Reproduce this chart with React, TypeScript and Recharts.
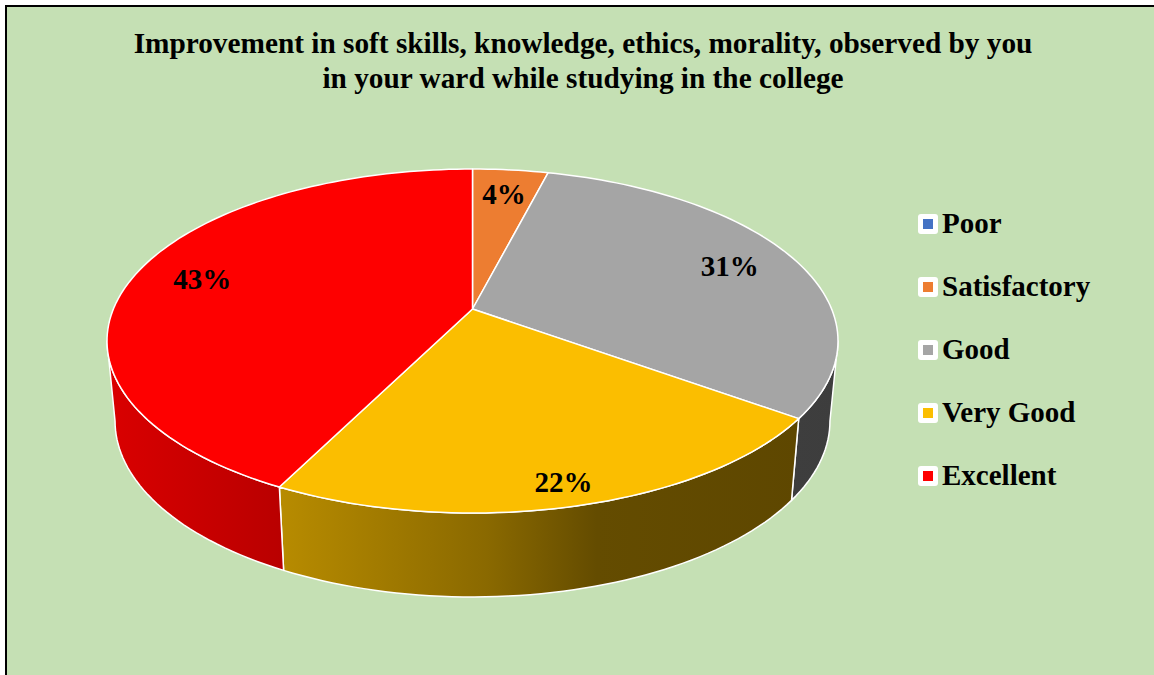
import React from 'react';
import { PieChart, Pie, Cell, Legend } from 'recharts';

const categories = ['Poor', 'Satisfactory', 'Good', 'Very Good', 'Excellent'];
const shares = [0, 4, 31, 22.4, 42.6];
const sliceColors = ['#4472c4', '#ed7d31', '#a5a5a5', '#fbbe00', '#fe0000'];
const titleLines = [
  'Improvement in soft skills, knowledge, ethics, morality, observed by you',
  'in your ward while studying in the college',
];

const data = categories.map((name, i) => ({ name, value: shares[i], color: sliceColors[i] }));

const W = 1154;
const H = 675;
const FONT = '"Times New Roman", "Liberation Serif", serif';
const TILT = 172 / 365.5; // ry / rx of the top face
const PERSP = -0.186; // how far the centre of the disc is pushed to the back
const DROP = 80; // thickness of the disc
const BOTTOM_RX = 0.978;
const BOTTOM_RY = 1.023;

// side lighting: fraction across the pie -> brightness
const SHADE = [
  [0, 0.86],
  [0.24, 0.73],
  [0.52, 0.55],
  [0.67, 0.4],
  [1, 0.37],
];

const shadeColor = (hex: string, k: number) => {
  const n = parseInt(hex.slice(1), 16);
  const r = Math.round(((n >> 16) & 255) * k);
  const g = Math.round(((n >> 8) & 255) * k);
  const b = Math.round((n & 255) * k);
  return `rgb(${r},${g},${b})`;
};

// circle -> perspective ellipse
const project = (cx: number, cy: number, rx: number, ry: number, deg: number, r = 1) => {
  const t = (deg * Math.PI) / 180;
  const u = r * Math.cos(t);
  const v = -r * Math.sin(t);
  const k = 1 + PERSP * v;
  return [cx + (rx * u * Math.sqrt(1 - PERSP * PERSP)) / k, cy + (ry * (v + PERSP)) / k];
};

const arc = (cx: number, cy: number, rx: number, ry: number, a0: number, a1: number) => {
  const steps = Math.max(2, Math.ceil(Math.abs(a1 - a0) / 1.5));
  const pts: number[][] = [];
  for (let i = 0; i <= steps; i++) pts.push(project(cx, cy, rx, ry, a0 + ((a1 - a0) * i) / steps));
  return pts;
};

const Slice3D = (props: any) => {
  const { cx, cy, outerRadius, startAngle, endAngle, index } = props;
  const fill = props.fill || props.payload?.color;
  if (Math.abs(endAngle - startAngle) < 1e-6) return <g />;
  const rx = outerRadius;
  const ry = outerRadius * TILT;
  const brx = rx * BOTTOM_RX;
  const bry = ry * BOTTOM_RY;
  const bcy = cy + DROP;

  const top = arc(cx, cy, rx, ry, startAngle, endAngle);
  const apex = project(cx, cy, rx, ry, 0, 0);
  const topPath =
    `M${apex[0]},${apex[1]} ` + top.map((p) => `L${p[0].toFixed(2)},${p[1].toFixed(2)}`).join(' ') + ' Z';

  // visible front wall
  const edge = (Math.asin(-PERSP) * 180) / Math.PI;
  const lo0 = Math.min(startAngle, endAngle);
  const hi0 = Math.max(startAngle, endAngle);
  const walls: string[] = [];
  [-360, 0, 360].forEach((shift) => {
    const lo = Math.max(lo0, -180 + edge + shift);
    const hi = Math.min(hi0, -edge + shift);
    if (hi - lo > 0.01) {
      const up = arc(cx, cy, rx, ry, lo, hi);
      const down = arc(cx, bcy, brx, bry, hi, lo);
      walls.push(
        [...up, ...down].map((p, i) => `${i ? 'L' : 'M'}${p[0].toFixed(2)},${p[1].toFixed(2)}`).join(' ') + ' Z'
      );
    }
  });

  const gid = `side-${index}`;
  return (
    <g>
      <defs>
        <linearGradient id={gid} gradientUnits="userSpaceOnUse" x1={cx - rx} y1={0} x2={cx + rx} y2={0}>
          {SHADE.map(([f, k]) => (
            <stop key={f} offset={f} stopColor={shadeColor(fill, k)} />
          ))}
        </linearGradient>
      </defs>
      {walls.map((d, i) => (
        <path key={i} d={d} fill={`url(#${gid})`} stroke="#ffffff" strokeWidth={1.5} strokeLinejoin="round" />
      ))}
      <path d={topPath} fill={fill} stroke="#ffffff" strokeWidth={1.5} strokeLinejoin="round" />
    </g>
  );
};

const renderLabel = (props: any) => {
  const { cx, cy, outerRadius, midAngle, percent } = props;
  if (!percent) return <g />;
  // labels sit a little further out on the front of the disc
  const front = Math.max(0, -Math.sin((midAngle * Math.PI) / 180));
  const [x, y] = project(cx, cy, outerRadius, outerRadius * TILT, midAngle, 0.8 + 0.1 * front);
  return (
    <text
      x={x}
      y={y}
      textAnchor="middle"
      dominantBaseline="central"
      fill="#000000"
      style={{ fontFamily: FONT, fontWeight: 700, fontSize: 29 }}
    >
      {`${Math.round(percent * 100)}%`}
    </text>
  );
};

const LegendBox = () => (
  <div style={{ fontFamily: FONT }}>
    {categories.map((name, i) => (
      <div key={name} style={{ height: 63, display: 'flex', alignItems: 'center' }}>
        <div
          style={{
            width: 20,
            height: 20,
            background: '#ffffff',
            borderRadius: 3,
            display: 'flex',
            alignItems: 'center',
            justifyContent: 'center',
            marginRight: 4,
          }}
        >
          <div style={{ width: 10, height: 10, background: sliceColors[i] }} />
        </div>
        <span style={{ fontSize: 29, fontWeight: 700, color: '#000000', whiteSpace: 'nowrap' }}>{name}</span>
      </div>
    ))}
  </div>
);

export default function App() {
  return (
    <div style={{ position: 'relative', width: W, height: H, overflow: 'hidden', background: '#ffffff' }}>
      <style>{'body{margin:0}'}</style>
      <div
        style={{
          position: 'absolute',
          left: 5,
          top: 5,
          width: W,
          height: H,
          border: '2px solid #000000',
          background: '#c5e0b4',
        }}
      />
      <svg width={W} height={120} style={{ position: 'absolute', left: 0, top: 0 }}>
        {titleLines.map((line, i) => (
          <text
            key={i}
            x={583}
            y={53 + i * 35}
            textAnchor="middle"
            style={{ fontFamily: FONT, fontWeight: 700, fontSize: 29.3 }}
            fill="#000000"
          >
            {line}
          </text>
        ))}
      </svg>
      <div style={{ position: 'absolute', left: 0, top: 0 }}>
        <PieChart width={W} height={H} margin={{ top: 0, right: 0, bottom: 0, left: 0 }}>
          <Pie
            data={data}
            dataKey="value"
            nameKey="name"
            cx={472.5}
            cy={341}
            outerRadius={365.5}
            startAngle={90}
            endAngle={-270}
            stroke="none"
            shape={Slice3D}
            label={renderLabel}
            labelLine={false}
            isAnimationActive={false}
          >
            {data.map((d) => (
              <Cell key={d.name} fill={d.color} />
            ))}
          </Pie>
          <Legend
            layout="vertical"
            align="right"
            verticalAlign="top"
            content={() => <LegendBox />}
            wrapperStyle={{ left: 918, top: 192, width: 236 }}
          />
        </PieChart>
      </div>
    </div>
  );
}
